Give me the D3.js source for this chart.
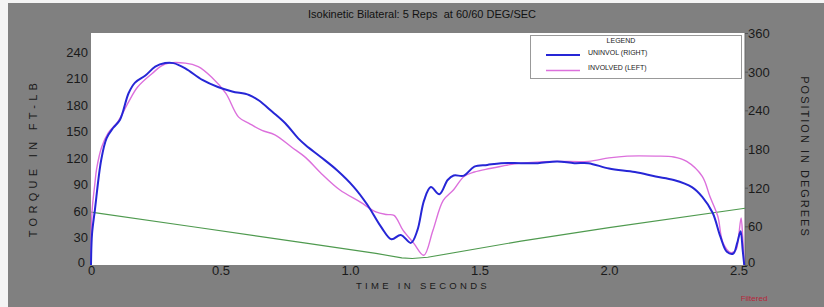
<!DOCTYPE html>
<html>
<head>
<meta charset="utf-8">
<script src="https://cdn.jsdelivr.net/npm/d3@7"></script>
<style>
	body { margin: 0; background: #fff; }
	svg { display: block; font-family: Arial, 'Liberation Sans', sans-serif; }
</style>
</head>
<body>
<div id="draw"></div>
<script>
// NOTE chart data
var xTicks = [0, 0.5, 1.0, 1.5, 2.0, 2.5];
var torqueTicks = [0, 30, 60, 90, 120, 150, 180, 210, 240];
var positionTicks = [0, 60, 120, 180, 240, 300, 360];

// UNINVOL (RIGHT) - blue
var uninvolTime = [0, 0.004, 0.015, 0.039, 0.06, 0.086, 0.112, 0.145, 0.17, 0.21, 0.248, 0.286, 0.318, 0.364, 0.43, 0.49, 0.545, 0.61, 0.647, 0.7, 0.75, 0.8, 0.83, 0.887, 0.95, 1.015, 1.067, 1.12, 1.16, 1.196, 1.235, 1.26, 1.286, 1.312, 1.345, 1.377, 1.4, 1.44, 1.48, 1.53, 1.583, 1.66, 1.725, 1.8, 1.866, 1.92, 2.0, 2.1, 2.18, 2.25, 2.32, 2.36, 2.4, 2.43, 2.455, 2.48, 2.495, 2.508, 2.516, 2.522];
var uninvolTorque = [0, 35, 62, 118, 143, 155, 164, 194, 206, 214, 224, 228, 228, 222, 209, 201, 196, 192, 186, 173, 160, 143, 135, 122, 107, 88, 68, 43, 29, 34, 25, 39, 73, 88, 80, 96, 101, 101, 111, 113, 115, 115, 115, 117, 115, 115, 109, 105, 100, 96, 88, 77, 59, 32, 15, 13, 25, 38, 17, 0];

// INVOLVED (LEFT) - magenta
var involvedTime = [0, 0.004, 0.015, 0.022, 0.041, 0.066, 0.104, 0.143, 0.18, 0.235, 0.286, 0.364, 0.414, 0.466, 0.52, 0.57, 0.61, 0.66, 0.71, 0.775, 0.83, 0.887, 0.96, 1.04, 1.1, 1.14, 1.17, 1.205, 1.245, 1.285, 1.32, 1.36, 1.4, 1.44, 1.48, 1.54, 1.61, 1.66, 1.79, 1.92, 2.0, 2.07, 2.18, 2.25, 2.3, 2.36, 2.39, 2.42, 2.44, 2.47, 2.49, 2.5, 2.51, 2.516, 2.522];
var involvedTorque = [0, 60, 92, 109, 133, 149, 162, 183, 201, 216, 227, 228, 224, 212, 194, 167, 160, 152, 147, 133, 121, 104, 85, 71, 60, 57, 56, 39, 25, 11, 39, 73, 85, 100, 105, 109, 113, 115, 117, 117, 121, 123, 123, 122, 117, 100, 77, 55, 25, 14, 17, 32, 53, 32, 0];

// position (degrees, right axis) - green
var positionTime = [0, 0.4, 0.83, 1.1, 1.2, 1.24, 1.3, 1.66, 2.0, 2.525];
var positionDeg = [82, 59, 34, 18, 11, 10, 12, 37, 58, 88];

var W = 824, H = 307;
var plot = { left: 91, right: 745, top: 33, bottom: 265 };

var svg = d3.select('#draw').append('svg').attr('width', W).attr('height', H);

// frame
svg.append('rect').attr('x', 0).attr('y', 0).attr('width', W).attr('height', H).attr('fill', '#f4f4f4');
svg.append('rect').attr('x', 8).attr('y', 3).attr('width', W - 8).attr('height', H - 3).attr('fill', '#808080');
svg.append('rect')
	.attr('x', plot.left).attr('y', plot.top)
	.attr('width', plot.right - plot.left).attr('height', plot.bottom - plot.top)
	.attr('fill', '#ffffff');

var x = d3.scaleLinear().domain([0, 2.525]).range([plot.left, plot.right]);
var yL = d3.scaleLinear().domain([0, 262]).range([plot.bottom, plot.top]);
var yR = d3.scaleLinear().domain([0, 360]).range([plot.bottom, plot.top]);

// right edge line
svg.append('line')
	.attr('x1', plot.right).attr('x2', plot.right)
	.attr('y1', plot.top).attr('y2', plot.bottom + 2)
	.attr('stroke', '#666').attr('stroke-width', 1);

// axes
var leftAxis = svg.append('g')
	.attr('transform', 'translate(' + (plot.left - 3) + ',0)')
	.call(d3.axisLeft(yL).tickValues(torqueTicks).tickSize(0).tickPadding(0));
leftAxis.selectAll('text').attr('dy', '0.35em').attr('y', -1);

var rightAxis = svg.append('g')
	.attr('transform', 'translate(' + plot.right + ',0)')
	.call(d3.axisRight(yR).tickValues(positionTicks).tickSize(3).tickPadding(0));
rightAxis.selectAll('line').attr('stroke', '#555');
rightAxis.selectAll('text').attr('x', 3).attr('dy', function (d) { return d === 0 ? '0.1em' : '0.35em'; });

var bottomAxis = svg.append('g')
	.attr('transform', 'translate(0,' + plot.bottom + ')')
	.call(d3.axisBottom(x).tickValues(xTicks).tickSize(0).tickPadding(1)
		.tickFormat(function (d) { return d === 0 ? '0' : d3.format('.1f')(d); }));

[leftAxis, rightAxis, bottomAxis].forEach(function (a) {
	a.select('.domain').remove();
	a.selectAll('text').attr('fill', '#1a1a1a').style('font-size', '13px').style('font-family', 'Arial, Liberation Sans, sans-serif');
});
leftAxis.select('.tick:first-of-type text').attr('x', -3).attr('y', -3);

// lines
var curve = d3.curveCatmullRom.alpha(0.5);

var torqueLine = d3.line()
	.x(function (d) { return x(d[0]); })
	.y(function (d) { return yL(d[1]); })
	.curve(curve);

var posLine = d3.line()
	.x(function (d) { return x(d[0]); })
	.y(function (d) { return yR(d[1]); });

svg.append('path')
	.datum(d3.zip(positionTime, positionDeg))
	.attr('d', posLine)
	.attr('fill', 'none').attr('stroke', '#4f9a4f').attr('stroke-width', 1.1);

svg.append('path')
	.datum(d3.zip(involvedTime, involvedTorque))
	.attr('d', torqueLine)
	.attr('fill', 'none').attr('stroke', '#dc70dc').attr('stroke-width', 1.4);

svg.append('path')
	.datum(d3.zip(uninvolTime, uninvolTorque))
	.attr('d', torqueLine)
	.attr('fill', 'none').attr('stroke', '#2626d6').attr('stroke-width', 2);

// legend
var lg = svg.append('g');
lg.append('rect').attr('x', 530.5).attr('y', 35.5).attr('width', 211).attr('height', 43)
	.attr('fill', '#fff').attr('stroke', '#999');
lg.append('text').attr('x', 621).attr('y', 43).attr('text-anchor', 'middle')
	.style('font-size', '7px').attr('fill', '#222').text('LEGEND');
lg.append('line').attr('x1', 546).attr('x2', 580).attr('y1', 55).attr('y2', 55)
	.attr('stroke', '#2626d6').attr('stroke-width', 2);
lg.append('text').attr('x', 588).attr('y', 55).style('font-size', '7px').attr('fill', '#222').text('UNINVOL (RIGHT)');
lg.append('line').attr('x1', 546).attr('x2', 580).attr('y1', 70.5).attr('y2', 70.5)
	.attr('stroke', '#dc70dc').attr('stroke-width', 1.4);
lg.append('text').attr('x', 588).attr('y', 70).style('font-size', '7px').attr('fill', '#222').text('INVOLVED (LEFT)');

// titles
svg.append('text').attr('x', 422).attr('y', 18).attr('text-anchor', 'middle')
	.style('font-size', '11px').style('white-space', 'pre').attr('fill', '#111')
	.text('Isokinetic Bilateral: 5 Reps  at 60/60 DEG/SEC');

svg.append('text').attr('transform', 'translate(37,158) rotate(-90)').attr('text-anchor', 'middle')
	.style('font-size', '11px').style('letter-spacing', '4.3px').attr('fill', '#1a1a1a')
	.text('TORQUE IN FT-LB');

svg.append('text').attr('transform', 'translate(801,157) rotate(90)').attr('text-anchor', 'middle')
	.style('font-size', '11px').style('letter-spacing', '2px').attr('fill', '#1a1a1a')
	.text('POSITION IN DEGREES');

svg.append('text').attr('x', 423).attr('y', 289).attr('text-anchor', 'middle')
	.style('font-size', '9.5px').style('letter-spacing', '3.3px').attr('fill', '#1a1a1a')
	.text('TIME IN SECONDS');

svg.append('text').attr('x', 754).attr('y', 301).attr('text-anchor', 'middle')
	.style('font-size', '8px').attr('fill', '#b8263a')
	.text('Filtered');
</script>
</body>
</html>
